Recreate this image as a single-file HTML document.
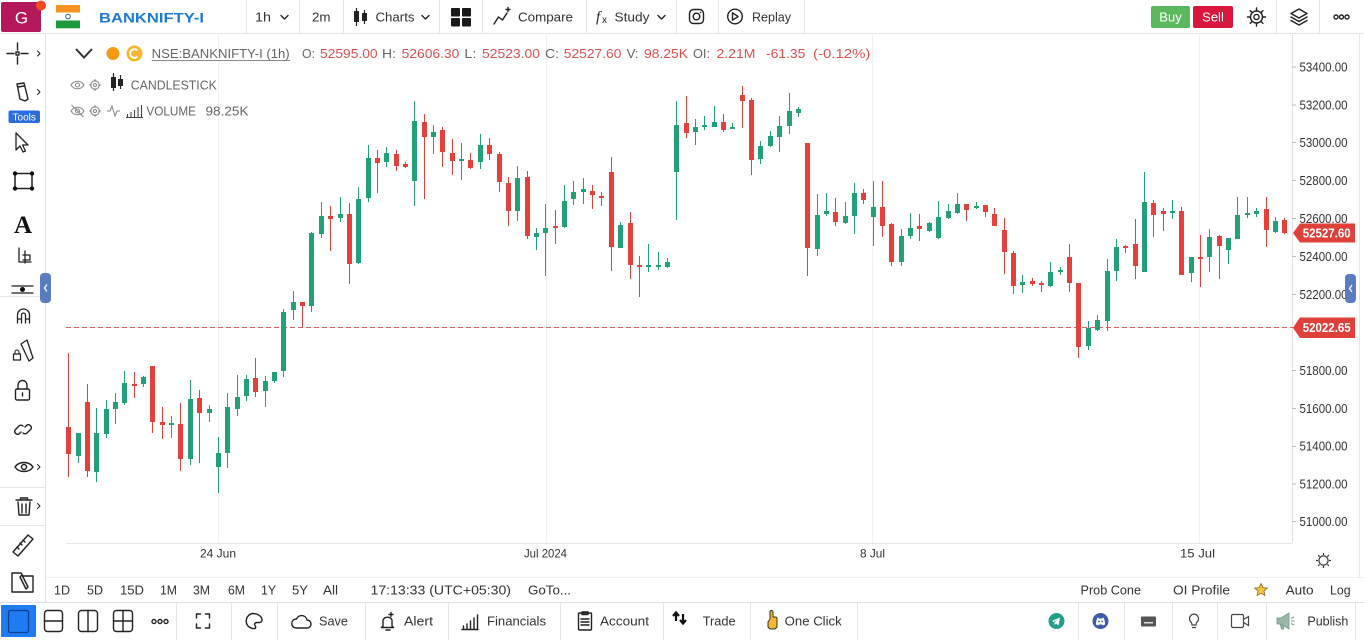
<!DOCTYPE html>
<html><head><meta charset="utf-8">
<style>
html,body{margin:0;padding:0;background:#fff;width:1364px;height:640px;overflow:hidden;}
svg{display:block;font-family:"Liberation Sans",Arial,sans-serif;}
.t{font-size:13px;fill:#333;}
.ax{font-size:12.5px;fill:#333;}
.lg{font-size:13px;fill:#666;}
.lv{font-size:13px;fill:#e0504f;}
.ic{fill:none;stroke:#222;stroke-width:1.4;stroke-linecap:round;stroke-linejoin:round;}
.sep{stroke:#e6e6e6;stroke-width:1;}
</style></head><body>
<svg width="1364" height="640" viewBox="0 0 1364 640" xmlns="http://www.w3.org/2000/svg">
<rect width="1364" height="640" fill="#fff"/>

<!-- ===== TOP BAR ===== -->
<line x1="0" y1="33.5" x2="1364" y2="33.5" stroke="#e3e3e3"/>
<rect x="1" y="2" width="40" height="30" rx="2" fill="#b5185a"/>
<text x="21.5" y="23.5" text-anchor="middle" font-size="17" fill="#fff">G</text>
<circle cx="41" cy="5.5" r="5" fill="#f04a20"/>
<g class="sep">
<line x1="246.5" y1="0" x2="246.5" y2="33"/>
<line x1="299.5" y1="0" x2="299.5" y2="33"/><line x1="343.5" y1="0" x2="343.5" y2="33"/>
<line x1="439.5" y1="0" x2="439.5" y2="33"/><line x1="482.5" y1="0" x2="482.5" y2="33"/>
<line x1="586.5" y1="0" x2="586.5" y2="33"/><line x1="676.5" y1="0" x2="676.5" y2="33"/>
<line x1="718.5" y1="0" x2="718.5" y2="33"/><line x1="804.5" y1="0" x2="804.5" y2="33"/>
<line x1="1276.5" y1="0" x2="1276.5" y2="33"/><line x1="1319.5" y1="0" x2="1319.5" y2="33"/>
</g>
<!-- flag -->
<rect x="56" y="5" width="24" height="7.5" fill="#f7931e"/>
<rect x="56" y="12.5" width="24" height="8" fill="#fff"/>
<rect x="56" y="20.5" width="24" height="7.8" fill="#1a9a3a"/>
<circle cx="68" cy="16.5" r="2.3" fill="none" stroke="#2a5a90" stroke-width="1"/>
<text x="99" y="22.5" font-size="14" font-weight="bold" fill="#1f7ad3" textLength="105" lengthAdjust="spacingAndGlyphs">BANKNIFTY-I</text>
<text x="255" y="21.5" class="t" textLength="16" lengthAdjust="spacingAndGlyphs">1h</text>
<path d="M281 15.5l3.5 3.5 3.5-3.5" class="ic" stroke-width="1.1"/>
<text x="312" y="21.5" class="t" textLength="18.5" lengthAdjust="spacingAndGlyphs">2m</text>
<!-- charts icon -->
<path d="M356.5 8V26M364.5 10V24" stroke="#222" stroke-width="1.2"/>
<rect x="354" y="11" width="5" height="11" fill="#222"/><rect x="362" y="13" width="5" height="8" fill="#222"/>
<text x="375.5" y="21.5" class="t" textLength="39" lengthAdjust="spacingAndGlyphs">Charts</text>
<path d="M422 15.5l3.5 3.5 3.5-3.5" class="ic" stroke-width="1.1"/>
<!-- grid icon -->
<rect x="451" y="8" width="9" height="8.5" rx="1" fill="#1a1a1a"/><rect x="462" y="8" width="9" height="8.5" rx="1" fill="#1a1a1a"/>
<rect x="451" y="18" width="9" height="8.5" rx="1" fill="#1a1a1a"/><rect x="462" y="18" width="9" height="8.5" rx="1" fill="#1a1a1a"/>
<!-- compare -->
<path d="M494 24l4.5-7 4 3 4.5-7" class="ic"/><path d="M506 9.5h4M508 7.5v4" class="ic" stroke-width="1.1"/>
<text x="518" y="21.5" class="t" textLength="55" lengthAdjust="spacingAndGlyphs">Compare</text>
<text x="596" y="21.5" font-family="Liberation Serif,serif" font-style="italic" font-size="15" fill="#222">f</text>
<text x="602" y="23" font-size="10" fill="#222">x</text>
<text x="614.5" y="21.5" class="t" textLength="35" lengthAdjust="spacingAndGlyphs">Study</text>
<path d="M658 15.5l3.5 3.5 3.5-3.5" class="ic" stroke-width="1.1"/>
<!-- instagram -->
<rect x="689.5" y="9.5" width="14" height="14" rx="4" class="ic"/><circle cx="696.5" cy="16.5" r="3.3" class="ic"/><circle cx="700.6" cy="12.4" r="0.8" fill="#222"/>
<!-- replay -->
<circle cx="735" cy="16.5" r="7.3" class="ic"/><path d="M732.5 12.8v7.4l5.6-3.7z" class="ic" stroke-width="1.2"/>
<text x="752" y="21.5" class="t" textLength="39" lengthAdjust="spacingAndGlyphs">Replay</text>
<!-- buy sell -->
<rect x="1151" y="6" width="39" height="22" rx="2" fill="#5cb85c"/>
<text x="1170.5" y="21.5" text-anchor="middle" font-size="13" fill="#fff">Buy</text>
<rect x="1193" y="6" width="40" height="22" rx="2" fill="#d9163c"/>
<text x="1213" y="21.5" text-anchor="middle" font-size="13" fill="#fff">Sell</text>
<!-- gear -->
<g transform="translate(1256.5 17)">
<circle r="6" class="ic"/><circle r="2.6" class="ic"/>
<path d="M0-9v3M0 6v3M-9 0h3M6 0h3M-6.4-6.4l2.1 2.1M4.3 4.3l2.1 2.1M-6.4 6.4l2.1-2.1M4.3-4.3l2.1-2.1" class="ic" stroke-width="2"/>
</g>
<!-- layers -->
<path d="M1299 9l8 4.5-8 4.5-8-4.5z" class="ic" stroke-width="1.3"/>
<path d="M1291 17l8 4.5 8-4.5M1291 20.5l8 4.5 8-4.5" class="ic" stroke-width="1.3"/>
<circle cx="1336" cy="17" r="2" class="ic" stroke-width="1"/><circle cx="1341.5" cy="17" r="2" class="ic" stroke-width="1"/><circle cx="1347" cy="17" r="2" class="ic" stroke-width="1"/>

<!-- ===== LEFT TOOLBAR ===== -->
<line x1="45.5" y1="34" x2="45.5" y2="602" stroke="#e3e3e3"/>
<g class="ic">
<path d="M7 53.5h7M21 53.5h7M17.5 43v7M17.5 57v7"/><rect x="16" y="52" width="3" height="3"/>
<path d="M37.5 51l2.5 2.5-2.5 2.5" stroke-width="1"/>
<path d="M17 84l7-1 4 16-3 2-5-2z"/><path d="M18 87l6-1" />
<path d="M37.5 89.5l2.5 2.5-2.5 2.5" stroke-width="1"/>
<path d="M16 133l0 17 4-4 3 6 2.5-1-3-6 5.5 0z" stroke-width="1.3"/>
<rect x="15" y="173.5" width="17" height="15" stroke-width="1.5"/>
<path d="M19 248v14M19 262h12M25 251v12M23 255h7v5h-7" stroke-width="1.3"/>
<path d="M12 286h21M12 293h21" stroke-width="1.2"/>
<path d="M17.5 323v-8a6 6 0 0 1 12 0v8M17.5 319h4M25.5 319h4M21.5 323v-8a2 2 0 0 1 4 0v8" stroke-width="1.3"/>
<path d="M21 344l6-4 6 18-4 3z" stroke-width="1.3"/><rect x="13.5" y="354" width="7" height="6" stroke-width="1.2"/><path d="M15 354v-2a2 2 0 0 1 4 0v2" stroke-width="1.1"/>
<rect x="15.5" y="389" width="14" height="11" rx="1.5"/><path d="M18 389v-4a4.5 4.5 0 0 1 9 0v4M22.5 393v3"/>
<path d="M21 432l-2 2a3 3 0 0 1-4-4l4-4a3 3 0 0 1 4 0M25 427l2-2a3 3 0 0 1 4 4l-4 4a3 3 0 0 1-4 0"/>
<path d="M15 467c4-6 14-6 18 0c-4 6-14 6-18 0z"/><circle cx="24" cy="467" r="2.5"/>
<path d="M37.5 464.5l2.5 2.5-2.5 2.5" stroke-width="1"/>
<path d="M16 500h16M20.5 500v-2h7v2M18 502l1 13h10l1-13M22 504v9M26 504v9"/>
<path d="M37.5 503.5l2.5 2.5-2.5 2.5" stroke-width="1"/>
<path d="M13 552l15-17 5 4-15 17z"/><path d="M17 547l2 2M20 543l2 2M23 540l2 2"/>
<path d="M12 573h9l2 3h10v16h-21z"/><path d="M22 575l6 12-2 2-6-12z" stroke-width="1.5"/>
</g>
<text x="23" y="233" text-anchor="middle" font-family="Liberation Serif,serif" font-weight="bold" font-size="25" fill="#111">A</text>
<g fill="#111"><circle cx="15" cy="173.5" r="2.2"/><circle cx="32" cy="173.5" r="2.2"/><circle cx="15" cy="188.5" r="2.2"/><circle cx="32" cy="188.5" r="2.2"/><circle cx="22.5" cy="289.5" r="2.5"/></g>
<rect x="8.5" y="110.5" width="31.5" height="12.5" rx="2" fill="#2b6de0"/>
<text x="24.2" y="120.3" text-anchor="middle" font-size="10" fill="#fff">Tools</text>
<line x1="0" y1="296.5" x2="45" y2="296.5" class="sep"/>
<line x1="0" y1="487.5" x2="45" y2="487.5" class="sep"/>
<line x1="0" y1="525.5" x2="45" y2="525.5" class="sep"/>

<!-- ===== CHART ===== -->
<g stroke="#f0f0f0"><line x1="218.5" y1="35" x2="218.5" y2="543"/><line x1="546.5" y1="35" x2="546.5" y2="543"/><line x1="872.5" y1="35" x2="872.5" y2="543"/><line x1="1199.5" y1="35" x2="1199.5" y2="543"/></g>
<line x1="66" y1="543.5" x2="1292" y2="543.5" stroke="#e6e6e6"/>
<line x1="1292.5" y1="35" x2="1292.5" y2="543" stroke="#e0e0e0"/>
<line x1="1359.5" y1="34" x2="1359.5" y2="577" stroke="#e8e8e8"/>

<line x1="66" y1="327.5" x2="1293" y2="327.5" stroke="#e06262" stroke-dasharray="5 3"/>

<!-- green wicks -->
<path stroke="#22a079" stroke-width="1" fill="none" d="M78.5 433V463M96.5 408V482M106.5 400V438M115.5 393V424M124.5 371V405M143.5 376V387M171.5 416V438M190.5 380V465M209.5 405V422M218.5 437V493M227.5 393V468M237.5 375V416M246.5 375V401M265.5 376V407M274.5 372V383M283.5 309V377M293.5 291V320M311.5 232V312M321.5 202V238M340.5 197V222M358.5 187V264M368.5 145V202M386.5 147V167M414.5 101V206M433.5 125V154M461.5 143V180M480.5 134V169M517.5 166V221M536.5 228V250M545.5 204V276M564.5 185V228M573.5 181V205M583.5 178V204M620.5 222V248M648.5 244V272M658.5 252V270M667.5 258V268M676.5 101V220M695.5 119V145M704.5 116V130M714.5 106V127M732.5 123V129M760.5 141V164M770.5 131V147M779.5 116V152M789.5 93V134M798.5 107V117M817.5 194V256M826.5 193V216M845.5 202V224M854.5 183V234M873.5 181V246M901.5 229V266M910.5 213V239M929.5 222V232M938.5 201V239M948.5 204V219M957.5 193V214M976.5 202V209M1022.5 275V293M1050.5 262V287M1060.5 267V275M1088.5 321V350M1097.5 315V331M1107.5 259V331M1116.5 239V281M1144.5 172V272M1172.5 200V219M1191.5 257V282M1209.5 229V272M1228.5 238V264M1237.5 197V239M1247.5 197V218M1256.5 208V217M1275.5 217V233"/>
<!-- green bodies -->
<path fill="#22a079" d="M76 433h5V456h-5zM94 433h5V472h-5zM104 409h5V434h-5zM113 402h5V409h-5zM122 383h5V403h-5zM141 377h5V384h-5zM169 423h5V425h-5zM188 399h5V459h-5zM207 409h5V413h-5zM216 453h5V467h-5zM225 407h5V453h-5zM235 397h5V409h-5zM244 379h5V396h-5zM263 381h5V391h-5zM272 372h5V381h-5zM281 312h5V371h-5zM291 302h5V310h-5zM309 233h5V306h-5zM319 216h5V234h-5zM338 214h5V218h-5zM356 199h5V263h-5zM366 158h5V198h-5zM384 153h5V162h-5zM412 121h5V181h-5zM431 132h5V137h-5zM459 159h5V161h-5zM478 145h5V162h-5zM515 178h5V211h-5zM534 233h5V237h-5zM543 228h5V233h-5zM562 201h5V227h-5zM571 192h5V199h-5zM581 189h5V192h-5zM618 225h5V248h-5zM646 265h5V267h-5zM656 265h5V267h-5zM665 262h5V267h-5zM674 125h5V172h-5zM693 127h5V132h-5zM702 125h5V127h-5zM712 122h5V127h-5zM730 127h5V129h-5zM758 146h5V159h-5zM768 136h5V146h-5zM777 126h5V137h-5zM787 111h5V126h-5zM796 109h5V113h-5zM815 215h5V249h-5zM824 211h5V214h-5zM843 216h5V223h-5zM852 193h5V216h-5zM871 207h5V217h-5zM899 236h5V262h-5zM908 228h5V236h-5zM927 223h5V231h-5zM936 217h5V238h-5zM946 211h5V218h-5zM955 204h5V213h-5zM974 206h5V208h-5zM1020 282h5V285h-5zM1048 272h5V286h-5zM1058 270h5V272h-5zM1086 328h5V346h-5zM1095 320h5V330h-5zM1105 271h5V321h-5zM1114 247h5V271h-5zM1142 202h5V272h-5zM1170 211h5V213h-5zM1189 257h5V273h-5zM1207 237h5V257h-5zM1226 238h5V250h-5zM1235 215h5V239h-5zM1245 213h5V215h-5zM1254 211h5V214h-5zM1273 221h5V232h-5z"/>
<!-- red wicks -->
<path stroke="#e5403a" stroke-width="1" fill="none" d="M68.5 353V477M87.5 384V477M134.5 372V398M152.5 366V433M162.5 407V439M180.5 403V471M199.5 390V463M255.5 358V397M302.5 302V327M330.5 206V251M349.5 203V284M377.5 150V193M396.5 150V171M405.5 162V168M424.5 114V199M442.5 127V167M452.5 139V175M470.5 153V169M489.5 138V160M499.5 152V192M508.5 177V226M527.5 171V239M555.5 210V244M592.5 185V209M601.5 192V206M611.5 157V271M630.5 212V279M639.5 256V297M686.5 96V138M723.5 114V132M742.5 86V128M751.5 98V175M807.5 143V276M835.5 198V226M863.5 189V204M882.5 181V237M891.5 223V266M919.5 214V241M966.5 204V221M985.5 205V217M994.5 208V226M1004.5 218V274M1013.5 251V294M1032.5 278V286M1041.5 281V292M1069.5 244V292M1078.5 283V358M1125.5 245V253M1135.5 219V279M1153.5 200V237M1163.5 208V231M1181.5 207V275M1200.5 235V287M1219.5 235V279M1266.5 197V247M1284.5 218V234"/>
<!-- red bodies -->
<path fill="#e5403a" d="M66 427h5V454h-5zM85 402h5V471h-5zM132 384h5V386h-5zM150 366h5V422h-5zM160 422h5V425h-5zM178 424h5V459h-5zM197 398h5V413h-5zM253 378h5V392h-5zM300 302h5V306h-5zM328 216h5V219h-5zM347 214h5V264h-5zM375 158h5V163h-5zM394 154h5V166h-5zM403 164h5V167h-5zM422 122h5V137h-5zM440 130h5V152h-5zM450 153h5V161h-5zM468 160h5V168h-5zM487 145h5V154h-5zM497 154h5V182h-5zM506 183h5V211h-5zM525 177h5V236h-5zM553 226h5V228h-5zM590 191h5V195h-5zM599 196h5V198h-5zM609 172h5V247h-5zM628 223h5V265h-5zM637 265h5V267h-5zM684 123h5V133h-5zM721 122h5V130h-5zM740 95h5V101h-5zM749 100h5V160h-5zM805 143h5V248h-5zM833 212h5V222h-5zM861 193h5V200h-5zM880 207h5V226h-5zM889 224h5V262h-5zM917 226h5V229h-5zM964 204h5V210h-5zM983 205h5V212h-5zM992 214h5V226h-5zM1002 230h5V252h-5zM1011 253h5V286h-5zM1030 281h5V284h-5zM1039 283h5V285h-5zM1067 257h5V283h-5zM1076 283h5V347h-5zM1123 246h5V248h-5zM1133 244h5V266h-5zM1151 203h5V215h-5zM1161 211h5V214h-5zM1179 211h5V275h-5zM1198 257h5V259h-5zM1217 236h5V246h-5zM1264 209h5V230h-5zM1282 220h5V233h-5z"/>

<!-- legend -->
<path d="M76 49l8 8.5 8-8.5" fill="none" stroke="#333" stroke-width="2"/>
<circle cx="113" cy="53.5" r="6.5" fill="#f39c12"/>
<circle cx="134.5" cy="53.5" r="8" fill="#f5b82e"/>
<path d="M137.5 50.5a4.3 4.3 0 1 0 0 6" fill="none" stroke="#fff" stroke-width="1.8"/>
<text x="151.7" y="58" class="lg" fill="#555" textLength="138" lengthAdjust="spacingAndGlyphs">NSE:BANKNIFTY-I (1h)</text>
<line x1="151.7" y1="60.5" x2="290" y2="60.5" stroke="#666" stroke-width="0.8"/>
<text x="302" y="58" class="lg" textLength="13" lengthAdjust="spacingAndGlyphs">O:</text>
<text x="320" y="58" class="lv" textLength="57.6" lengthAdjust="spacingAndGlyphs">52595.00</text>
<text x="382" y="58" class="lg" textLength="14" lengthAdjust="spacingAndGlyphs">H:</text>
<text x="401.7" y="58" class="lv" textLength="57.6" lengthAdjust="spacingAndGlyphs">52606.30</text>
<text x="464.4" y="58" class="lg" textLength="12" lengthAdjust="spacingAndGlyphs">L:</text>
<text x="482" y="58" class="lv" textLength="58" lengthAdjust="spacingAndGlyphs">52523.00</text>
<text x="545" y="58" class="lg" textLength="14" lengthAdjust="spacingAndGlyphs">C:</text>
<text x="563.8" y="58" class="lv" textLength="57.6" lengthAdjust="spacingAndGlyphs">52527.60</text>
<text x="626.6" y="58" class="lg" textLength="12" lengthAdjust="spacingAndGlyphs">V:</text>
<text x="644" y="58" class="lv" textLength="44" lengthAdjust="spacingAndGlyphs">98.25K</text>
<text x="693" y="58" class="lg" textLength="17" lengthAdjust="spacingAndGlyphs">OI:</text>
<text x="716.5" y="58" class="lv" textLength="39" lengthAdjust="spacingAndGlyphs">2.21M</text>
<text x="766" y="58" class="lv" textLength="39.4" lengthAdjust="spacingAndGlyphs">-61.35</text>
<text x="813" y="58" class="lv" textLength="57.4" lengthAdjust="spacingAndGlyphs">(-0.12%)</text>

<!-- row 2 -->
<g fill="none" stroke="#8a8a8a" stroke-width="1.1">
<path d="M71 85c3-5 10-5 13 0c-3 5-10 5-13 0z"/><circle cx="77.5" cy="85" r="2"/>
<circle cx="95" cy="85" r="4.2"/><circle cx="95" cy="85" r="1.6"/>
<path d="M95 79.5v1.5M95 89v1.5M89.5 85h1.5M99 85h1.5" stroke-width="1.8"/>
<path d="M71 111c3-5 10-5 13 0c-3 5-10 5-13 0z"/><circle cx="77.5" cy="111" r="2"/><path d="M71.5 105l12 12"/>
<circle cx="95" cy="111" r="4.2"/><circle cx="95" cy="111" r="1.6"/>
<path d="M95 105.5v1.5M95 115v1.5M89.5 111h1.5M99 111h1.5" stroke-width="1.8"/>
<path d="M107 111h3l2-5 3 10 2-5h3"/>
<path d="M126 117.5h17M127.5 117v-3M131 117v-5M134.5 117v-7M138 117v-10M141.5 117v-12" stroke="#444"/>
</g>
<path d="M113.5 73V91M120.5 75V89" stroke="#222" stroke-width="1.2"/>
<rect x="111" y="77" width="5" height="11" fill="#222"/><rect x="118" y="79" width="5" height="7" fill="#222"/>
<text x="130.8" y="89.5" class="lg" fill="#555" textLength="86" lengthAdjust="spacingAndGlyphs">CANDLESTICK</text>
<text x="146.4" y="115.5" class="lg" fill="#555" textLength="49.6" lengthAdjust="spacingAndGlyphs">VOLUME</text>
<text x="205.5" y="115.5" class="lg" fill="#555" textLength="43" lengthAdjust="spacingAndGlyphs">98.25K</text>

<!-- price axis -->
<g stroke="#bbb"><line x1="1292" y1="67" x2="1296" y2="67"/><line x1="1292" y1="105" x2="1296" y2="105"/><line x1="1292" y1="142.5" x2="1296" y2="142.5"/><line x1="1292" y1="180.5" x2="1296" y2="180.5"/><line x1="1292" y1="218.5" x2="1296" y2="218.5"/><line x1="1292" y1="256.5" x2="1296" y2="256.5"/><line x1="1292" y1="294.5" x2="1296" y2="294.5"/><line x1="1292" y1="370.5" x2="1296" y2="370.5"/><line x1="1292" y1="408.5" x2="1296" y2="408.5"/><line x1="1292" y1="446.5" x2="1296" y2="446.5"/><line x1="1292" y1="484" x2="1296" y2="484"/><line x1="1292" y1="521.5" x2="1296" y2="521.5"/></g>
<g class="ax">
<text x="1299.5" y="71.5" textLength="48" lengthAdjust="spacingAndGlyphs">53400.00</text>
<text x="1299.5" y="109.3" textLength="48" lengthAdjust="spacingAndGlyphs">53200.00</text>
<text x="1299.5" y="147.2" textLength="48" lengthAdjust="spacingAndGlyphs">53000.00</text>
<text x="1299.5" y="185" textLength="48" lengthAdjust="spacingAndGlyphs">52800.00</text>
<text x="1299.5" y="223" textLength="48" lengthAdjust="spacingAndGlyphs">52600.00</text>
<text x="1299.5" y="261" textLength="48" lengthAdjust="spacingAndGlyphs">52400.00</text>
<text x="1299.5" y="299" textLength="48" lengthAdjust="spacingAndGlyphs">52200.00</text>
<text x="1299.5" y="375" textLength="48" lengthAdjust="spacingAndGlyphs">51800.00</text>
<text x="1299.5" y="412.8" textLength="48" lengthAdjust="spacingAndGlyphs">51600.00</text>
<text x="1299.5" y="450.5" textLength="48" lengthAdjust="spacingAndGlyphs">51400.00</text>
<text x="1299.5" y="488.5" textLength="48" lengthAdjust="spacingAndGlyphs">51200.00</text>
<text x="1299.5" y="525.8" textLength="48" lengthAdjust="spacingAndGlyphs">51000.00</text>
</g>
<path d="M1293 233l7-9.5H1355V242.5H1300z" fill="#e0403a"/>
<text x="1302.7" y="237.6" font-size="12.5" font-weight="bold" fill="#fff" textLength="48" lengthAdjust="spacingAndGlyphs">52527.60</text>
<path d="M1293 327.8l7-10.3H1355V338H1300z" fill="#e0403a"/>
<text x="1302.7" y="332.2" font-size="12.5" font-weight="bold" fill="#fff" textLength="48" lengthAdjust="spacingAndGlyphs">52022.65</text>

<!-- collapse tabs -->
<rect x="40" y="273" width="11" height="30" rx="4" fill="#5a7cc0"/>
<path d="M47 284.5l-2.5 3.5 2.5 3.5" fill="none" stroke="#fff" stroke-width="1.2"/>
<rect x="1345" y="274" width="11" height="29" rx="4" fill="#5a7cc0"/>
<path d="M1352 285l-2.5 3.5 2.5 3.5" fill="none" stroke="#fff" stroke-width="1.2"/>

<!-- time axis -->
<g font-size="12" fill="#333">
<text x="218" y="557.5" text-anchor="middle" textLength="36" lengthAdjust="spacingAndGlyphs">24 Jun</text>
<text x="545.5" y="557.5" text-anchor="middle" textLength="43" lengthAdjust="spacingAndGlyphs">Jul 2024</text>
<text x="872.5" y="557.5" text-anchor="middle" textLength="25" lengthAdjust="spacingAndGlyphs">8 Jul</text>
<text x="1197.5" y="557.5" text-anchor="middle" textLength="35" lengthAdjust="spacingAndGlyphs">15 Jul</text>
</g>
<g transform="translate(1323.5 560.5)" fill="none" stroke="#333" stroke-width="1.2">
<circle r="4.6"/><path d="M0-7.5v2M0 5.5v2M-7.5 0h2M5.5 0h2M-5.3-5.3l1.4 1.4M3.9 3.9l1.4 1.4M-5.3 5.3l1.4-1.4M3.9-3.9l1.4-1.4"/>
</g>

<!-- ===== RANGE ROW ===== -->
<line x1="46" y1="577.5" x2="1364" y2="577.5" stroke="#f0f0f0"/>
<g class="t">
<text x="54" y="594.5" textLength="16" lengthAdjust="spacingAndGlyphs">1D</text>
<text x="87" y="594.5" textLength="16" lengthAdjust="spacingAndGlyphs">5D</text>
<text x="120" y="594.5" textLength="24" lengthAdjust="spacingAndGlyphs">15D</text>
<text x="160" y="594.5" textLength="17" lengthAdjust="spacingAndGlyphs">1M</text>
<text x="193" y="594.5" textLength="17" lengthAdjust="spacingAndGlyphs">3M</text>
<text x="228" y="594.5" textLength="17" lengthAdjust="spacingAndGlyphs">6M</text>
<text x="261" y="594.5" textLength="15" lengthAdjust="spacingAndGlyphs">1Y</text>
<text x="292" y="594.5" textLength="16" lengthAdjust="spacingAndGlyphs">5Y</text>
<text x="323" y="594.5" textLength="15" lengthAdjust="spacingAndGlyphs">All</text>
<text x="370.5" y="594.5" textLength="140.5" lengthAdjust="spacingAndGlyphs">17:13:33 (UTC+05:30)</text>
<text x="528" y="594.5" textLength="43" lengthAdjust="spacingAndGlyphs">GoTo...</text>
<text x="1080.5" y="594.5" textLength="60.5" lengthAdjust="spacingAndGlyphs">Prob Cone</text>
<text x="1173" y="594.5" textLength="57" lengthAdjust="spacingAndGlyphs">OI Profile</text>
<text x="1285.6" y="594.5" textLength="28" lengthAdjust="spacingAndGlyphs">Auto</text>
<text x="1330" y="594.5" textLength="20.6" lengthAdjust="spacingAndGlyphs">Log</text>
</g>
<path d="M1261 583.5l1.9 4.1 4.4.5-3.3 3 .9 4.4-3.9-2.2-3.9 2.2.9-4.4-3.3-3 4.4-.5z" fill="#f5c23d" stroke="#8a6a20" stroke-width="0.8"/>

<!-- ===== BOTTOM TOOLBAR ===== -->
<line x1="0" y1="602.5" x2="1364" y2="602.5" stroke="#e0e0e0"/>
<rect x="1" y="605" width="35" height="32" rx="1" fill="#1e7bf2"/>
<rect x="8.5" y="610.5" width="20" height="22" rx="2" fill="none" stroke="#0c3f8f" stroke-width="1.3"/>
<g class="ic" stroke="#333" stroke-width="1.2">
<rect x="44.5" y="610.5" width="18" height="21" rx="3"/><path d="M44.5 621h18"/>
<rect x="78.5" y="610.5" width="19" height="21" rx="3"/><path d="M88 610.5v21"/>
<rect x="113.5" y="610.5" width="19" height="21" rx="3"/><path d="M123 610.5v21M113.5 621h19"/>
<circle cx="154" cy="621.5" r="2"/><circle cx="160" cy="621.5" r="2"/><circle cx="166" cy="621.5" r="2"/>
<path d="M196.5 618v-4h4M205.5 614h4v4M209.5 624v4h-4M200.5 628h-4v-4"/>
<path d="M253 613.5a7.5 7.5 0 1 0 1.5 15c1.5 0 1.5-2 .5-3s0-3 2-3h2.5a2.5 2.5 0 0 0 2.5-3c-.5-3.5-4.5-6-9-6z"/>
<path d="M296 628h11a4 4 0 0 0 0-8 5.5 5.5 0 0 0-10.5-1 4.5 4.5 0 0 0-.5 9z"/>
<path d="M383 626v-6a5 5 0 0 1 9 0v6l1.5 1.5h-12zM386 630h4M391 612.5v4M389 614.5h4"/>
<path d="M462 629.5h16M463.5 629v-3M467 629v-5M470.5 629v-8M474 629v-11M477.5 629v-14"/>
<rect x="578.5" y="613" width="13" height="17" rx="1"/><path d="M582 612h6v2.5h-6zM581 619h8M581 622h8M581 625h8"/>
</g>
<path d="M676 621v-8M673 616l3-3.5 3 3.5M683 614v9M680 620l3 3.5 3-3.5" fill="none" stroke="#111" stroke-width="2.2"/>
<path d="M768 627v-5l2-3v-7a1.5 1.5 0 0 1 3 0v5h2.5a1.5 1.5 0 0 1 1.5 1.5v8.5l-2 2h-5z" fill="#f5b82e" stroke="#333" stroke-width="1"/>
<g class="sep">
<line x1="176.5" y1="603" x2="176.5" y2="640"/><line x1="231.5" y1="603" x2="231.5" y2="640"/>
<line x1="277.5" y1="603" x2="277.5" y2="640"/><line x1="365.5" y1="603" x2="365.5" y2="640"/>
<line x1="448.5" y1="603" x2="448.5" y2="640"/><line x1="560.5" y1="603" x2="560.5" y2="640"/>
<line x1="663.5" y1="603" x2="663.5" y2="640"/><line x1="750.5" y1="603" x2="750.5" y2="640"/>
<line x1="857.5" y1="603" x2="857.5" y2="640"/><line x1="1078.5" y1="603" x2="1078.5" y2="640"/>
<line x1="1124.5" y1="603" x2="1124.5" y2="640"/><line x1="1172.5" y1="603" x2="1172.5" y2="640"/>
<line x1="1217.5" y1="603" x2="1217.5" y2="640"/><line x1="1266.5" y1="603" x2="1266.5" y2="640"/>
<line x1="1355.5" y1="603" x2="1355.5" y2="640"/>
</g>
<g class="t">
<text x="319" y="625.5" textLength="29" lengthAdjust="spacingAndGlyphs">Save</text>
<text x="404" y="625.5" textLength="29" lengthAdjust="spacingAndGlyphs">Alert</text>
<text x="487" y="625.5" textLength="59" lengthAdjust="spacingAndGlyphs">Financials</text>
<text x="600" y="625.5" textLength="49" lengthAdjust="spacingAndGlyphs">Account</text>
<text x="702.7" y="625.5" textLength="33" lengthAdjust="spacingAndGlyphs">Trade</text>
<text x="784.7" y="625.5" textLength="57" lengthAdjust="spacingAndGlyphs">One Click</text>
<text x="1307.4" y="625.5" textLength="41" lengthAdjust="spacingAndGlyphs">Publish</text>
</g>
<!-- telegram -->
<circle cx="1056.5" cy="621" r="8" fill="#23a08a"/>
<path d="M1052 621l8-3.5-1.5 8-2.5-2-1.5 1.5v-2.5l3.5-3-4.5 2.5z" fill="#fff"/>
<!-- discord -->
<circle cx="1100.5" cy="621" r="8" fill="#3f5aa8"/>
<path d="M1096 624.5c0-4 1-6.5 2-7l1 1h3l1-1c1 .5 2 3 2 7l-2 1-1-1h-3l-1 1z" fill="#fff"/>
<circle cx="1099" cy="621.5" r="0.9" fill="#3f5aa8"/><circle cx="1102" cy="621.5" r="0.9" fill="#3f5aa8"/>
<!-- keyboard -->
<rect x="1141" y="616.5" width="15" height="10" rx="1" fill="#555"/><rect x="1144" y="622" width="9" height="1.5" fill="#ddd"/>
<!-- bulb -->
<path d="M1191 622a4.5 4.5 0 1 1 6 0c-1 1-1 2-1 3h-4c0-1 0-2-1-3zM1192 627.5h4" fill="none" stroke="#444" stroke-width="1.2"/>
<!-- video -->
<rect x="1231.5" y="614.5" width="12" height="13" rx="1.5" fill="none" stroke="#444" stroke-width="1.2"/>
<path d="M1243.5 619.5l5-3v9l-5-3" fill="none" stroke="#444" stroke-width="1.2"/>
<!-- megaphone -->
<path d="M1277 618h4l8-5v16l-8-5h-4zM1280 624l1.5 5h2.5l-1.5-5" fill="#9ab8a8" stroke="#7a9a8a" stroke-width="0.8"/>
<path d="M1291 618.5l3-1.5M1291 621h3.5M1291 623.5l3 1.5" stroke="#7a9a8a" stroke-width="1"/>
</svg>
</body></html>
